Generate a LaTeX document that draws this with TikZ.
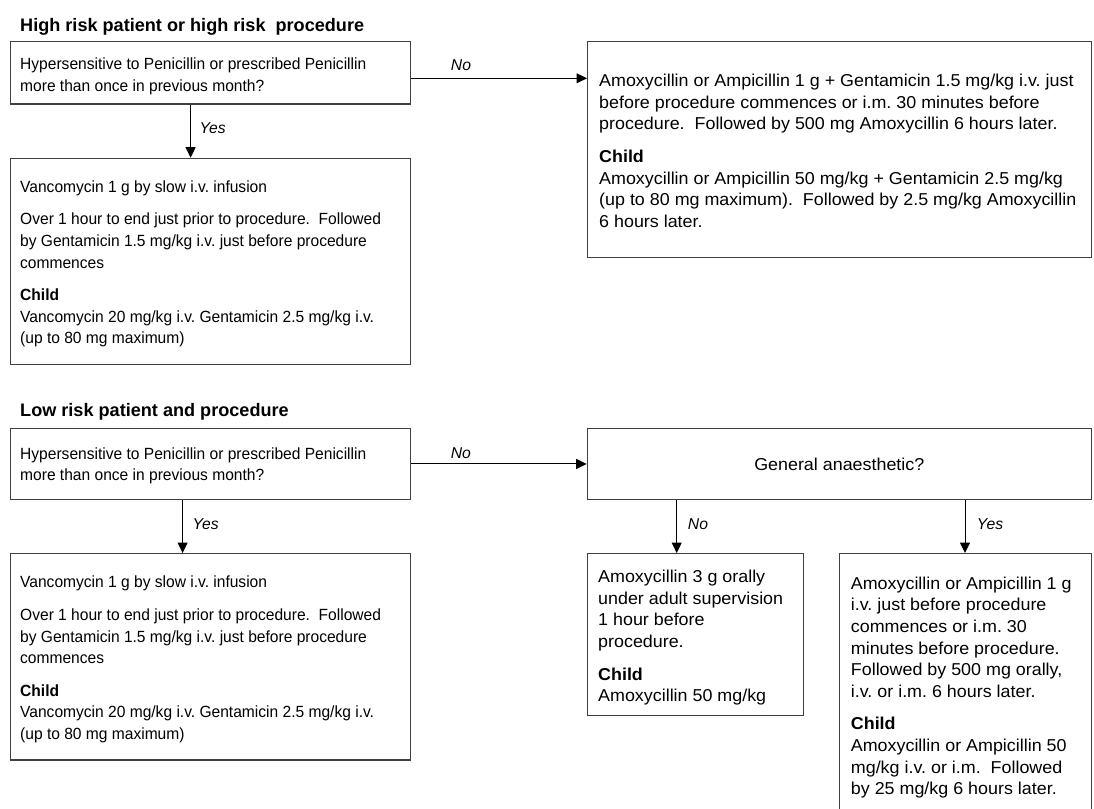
\documentclass[tikz,border=0pt]{standalone}
\usepackage{fontspec}
\setmainfont{Liberation Sans}
\newfontfamily\lfam[FakeStretch=0.961]{Liberation Sans}
\newfontfamily\rfam[FakeStretch=1.04]{Liberation Sans}
\usetikzlibrary{arrows.meta,calc}
\newcommand\bodyfnt{\lfam\fontsize{16.2}{21.6}\selectfont}
\newcommand\rightfnt{\rfam\fontsize{17.2}{21.6}\selectfont}
\newcommand\lblfnt{\fontsize{15.7}{21.6}\selectfont\itshape}
\newcommand\titlefnt{\fontsize{18.1}{21.6}\selectfont\bfseries}
\definecolor{boxgray}{HTML}{404040}
\frenchspacing
\begin{document}
\begin{tikzpicture}[x=1pt,y=-1pt,
  bx/.style={draw=boxgray,line width=1.2pt,anchor=north west,inner sep=0pt,font=\rightfnt},
  txt/.style={anchor=north west,inner sep=0pt,align=left,font=\bodyfnt},
  rtxt/.style={anchor=north west,inner sep=0pt,align=left,font=\rightfnt},
  ttl/.style={anchor=base west,inner sep=0pt,font=\titlefnt},
  arr/.style={draw=black,line width=1pt,-{Triangle[length=10.5pt,width=10pt]}},
  lbl/.style={font=\lblfnt,inner sep=0pt,anchor=center}]
\useasboundingbox (0,0) rectangle (1094,808);
\clip (0,0) rectangle (1094,808);

% titles
\node[ttl] (h1) at (20,31.4) {High risk patient or high risk\ \ procedure};
\node[ttl] (h2) at (20,416.4) {Low risk patient and procedure};

% boxes
\node[bx,minimum width=399.5pt,minimum height=62.6pt] (b1) at (10,40.7) {};
\node[bx,minimum width=399.5pt,minimum height=206.3pt] (b2) at (10,157.7) {};
\node[bx,minimum width=503.7pt,minimum height=215.7pt] (b3) at (587,41) {};
\node[bx,minimum width=399.5pt,minimum height=71.3pt] (b4) at (10,427.7) {};
\node[bx,minimum width=399.5pt,minimum height=206.3pt] (b5) at (10,553) {};
\node[bx,minimum width=504pt,minimum height=71.3pt] (b6) at (586.7,427.7) {General anaesthetic?};
\node[bx,minimum width=216pt,minimum height=162pt] (b7) at (586.7,553) {};
\node[bx,minimum width=251.7pt,minimum height=262pt] (b8) at (839,553) {};

% texts
\node[txt] (t1) at (20,54.2) {\strut Hypersensitive to Penicillin or prescribed Penicillin\\
more than once in previous month?};
\node[txt] (t2) at (20,176.9) {\strut Vancomycin 1 g by slow i.v. infusion\\[11pt]
Over 1 hour to end just prior to procedure.\ \ Followed\\
by Gentamicin 1.5 mg/kg i.v. just before procedure\\
commences\\[11pt]
\textbf{Child}\\
Vancomycin 20 mg/kg i.v. Gentamicin 2.5 mg/kg i.v.\\
(up to 80 mg maximum)};
\node[rtxt] (t3) at (599,71.3) {\strut Amoxycillin or Ampicillin 1 g + Gentamicin 1.5 mg/kg i.v. just\\
before procedure commences or i.m. 30 minutes before\\
procedure.\ \ Followed by 500 mg Amoxycillin 6 hours later.\\[11pt]
\textbf{Child}\\
Amoxycillin or Ampicillin 50 mg/kg + Gentamicin 2.5 mg/kg\\
(up to 80 mg maximum).\ \ Followed by 2.5 mg/kg Amoxycillin\\
6 hours later.};
\node[txt] (t4) at (20,443.9) {\strut Hypersensitive to Penicillin or prescribed Penicillin\\
more than once in previous month?};
\node[txt] (t5) at (20,572.6) {\strut Vancomycin 1 g by slow i.v. infusion\\[11pt]
Over 1 hour to end just prior to procedure.\ \ Followed\\
by Gentamicin 1.5 mg/kg i.v. just before procedure\\
commences\\[11pt]
\textbf{Child}\\
Vancomycin 20 mg/kg i.v. Gentamicin 2.5 mg/kg i.v.\\
(up to 80 mg maximum)};
\node[rtxt] (t7) at (598,567.3) {\strut Amoxycillin 3 g orally\\
under adult supervision\\
1 hour before\\
procedure.\\[11pt]
\textbf{Child}\\
Amoxycillin 50 mg/kg};
\node[rtxt] (t8) at (850.7,574) {\strut Amoxycillin or Ampicillin 1 g\\
i.v. just before procedure\\
commences or i.m. 30\\
minutes before procedure.\\
Followed by 500 mg orally,\\
i.v. or i.m. 6 hours later.\\[11pt]
\textbf{Child}\\
Amoxycillin or Ampicillin 50\\
mg/kg i.v. or i.m.\ \ Followed\\
by 25 mg/kg 6 hours later.};

% connectors
\draw[arr] ([yshift=-5.7pt]b1.east) -- ([yshift=-5.7pt]b1.east -| b3.west)
  node[lbl,pos=0.285,yshift=12.7pt] {No};
\draw[arr] ([xshift=-19.75pt]b1.south) -- ([xshift=-19.75pt]b1.south |- b2.north)
  node[lbl,pos=0.454,xshift=22pt] {Yes};
\draw[arr] (b4.east) -- (b4.east -| b6.west)
  node[lbl,pos=0.285,yshift=10.6pt] {No};
\draw[arr] ([xshift=-27.75pt]b4.south) -- ([xshift=-27.75pt]b4.south |- b5.north)
  node[lbl,pos=0.463,xshift=23pt] {Yes};
\draw[arr] ([xshift=90pt]b6.south west) -- ([xshift=90pt]b6.south west |- b7.north)
  node[lbl,pos=0.463,xshift=21.3pt] {No};
\draw[arr] ([xshift=378.3pt]b6.south west) -- ([xshift=378.3pt]b6.south west |- b8.north)
  node[lbl,pos=0.463,xshift=25pt] {Yes};
\end{tikzpicture}
\end{document}
